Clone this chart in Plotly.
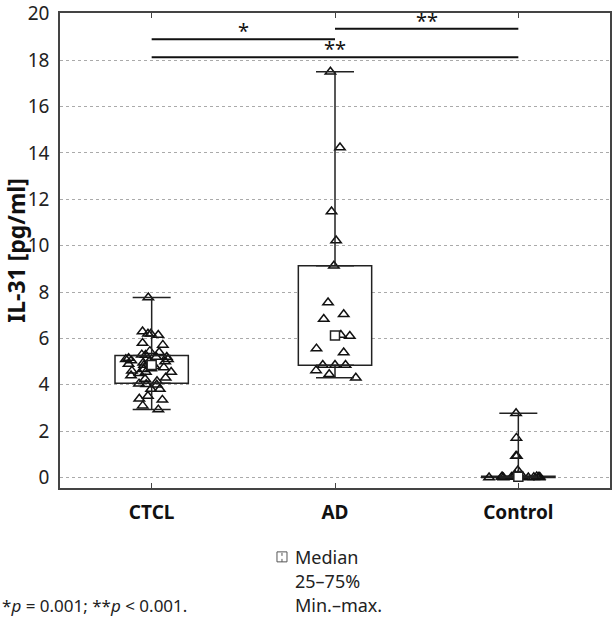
import plotly.graph_objects as go

# ---------------- data ----------------
categories = ["CTCL", "AD", "Control"]

q1 = [4.07, 4.84, 0.0]
median = [4.85, 6.12, 0.04]
q3 = [5.26, 9.13, 0.06]
whisk_min = [2.93, 4.30, 0.0]
whisk_max = [7.76, 17.50, 2.77]

ctcl_values = [7.76, 6.30, 6.20, 6.15, 6.20, 5.80, 5.72, 5.45, 5.40, 5.30, 5.28,
               5.20, 5.20, 5.15, 5.10, 5.10, 5.05, 5.00, 5.00, 4.95, 4.90, 4.90,
               4.85, 4.80, 4.75, 4.70, 4.67, 4.60, 4.55, 4.55, 4.50, 4.40, 4.30,
               4.25, 4.15, 4.05, 4.02, 4.00, 3.82, 3.82, 3.52, 3.40, 3.35, 3.10, 2.93]
ad_values = [17.50, 14.23, 11.47, 10.22, 9.13, 7.55, 7.04, 6.84, 6.15, 6.10,
             5.56, 5.39, 4.85, 4.85, 4.85, 4.62, 4.45, 4.30]
control_values = [2.77, 1.71, 0.93, 0.93, 0.30, 0.10, 0.08, 0.07, 0.06, 0.05,
                  0.05, 0.04, 0.03, 0.03, 0.02, 0.02, 0.02, 0.01, 0.0, 0.0, 0.0, 0.0]

sig_from = [0, 1, 0]
sig_to = [1, 2, 2]
sig_level = [18.90, 19.35, 18.12]
sig_label = ["*", "**", "**"]

y_ticks = [0, 2, 4, 6, 8, 10, 12, 14, 16, 18, 20]
legend_lines = ["Median", "25–75%", "Min.–max."]
footnote = "*<i>p</i> = 0.001; **<i>p</i> < 0.001."

# ---------------- figure ----------------
FONT = "Noto Sans"
fig = go.Figure()

# boxes (25-75%)
fig.add_trace(go.Bar(
    x=categories, y=[b - a for a, b in zip(q1, q3)], base=q1, width=0.4,
    marker=dict(color="white", line=dict(color="#222", width=1.5)),
    hoverinfo="skip"))

# upper whiskers
fig.add_trace(go.Scatter(
    x=categories, y=q3, mode="markers", marker=dict(opacity=0),
    error_y=dict(type="data", symmetric=False,
                 array=[b - a for a, b in zip(q3, whisk_max)],
                 arrayminus=[0] * len(categories),
                 width=19, thickness=1.5, color="#222"),
    hoverinfo="skip"))
# lower whiskers
fig.add_trace(go.Scatter(
    x=categories, y=q1, mode="markers", marker=dict(opacity=0),
    error_y=dict(type="data", symmetric=False,
                 array=[0] * len(categories),
                 arrayminus=[a - b for a, b in zip(q1, whisk_min)],
                 width=19, thickness=1.5, color="#222"),
    hoverinfo="skip"))

# medians
fig.add_trace(go.Scatter(
    x=categories, y=median, mode="markers",
    marker=dict(symbol="square", size=9, color="white",
                line=dict(color="#222", width=1.5))))

# individual points (jittered by plotly)
all_x = ([categories[0]] * len(ctcl_values) + [categories[1]] * len(ad_values)
         + [categories[2]] * len(control_values))
all_y = ctcl_values + ad_values + control_values
fig.add_trace(go.Box(
    x=all_x, y=all_y, boxpoints="all", jitter=0.85, pointpos=0, width=0.4,
    fillcolor="rgba(0,0,0,0)", line=dict(width=0, color="rgba(0,0,0,0)"),
    marker=dict(symbol="triangle-up-open", size=9, color="#111",
                line=dict(color="#111", width=1.5)),
    hoveron="points"))

# significance bars
for a, b, lvl, lab in zip(sig_from, sig_to, sig_level, sig_label):
    fig.add_trace(go.Scatter(
        x=[categories[a], categories[b]], y=[lvl, lvl], mode="lines",
        line=dict(color="#111", width=2), hoverinfo="skip"))
    fig.add_annotation(x=(a + b) / 2, y=lvl, xref="x", yref="y", text=lab,
                       showarrow=False, yanchor="bottom", yshift=-7,
                       font=dict(family=FONT, size=20, color="#111"))

# legend block (text)
leg_y = [-0.145, -0.196, -0.247]
for txt, yy in zip(legend_lines, leg_y):
    fig.add_annotation(x=0.4236, y=yy, xref="paper", yref="paper", text=txt,
                       showarrow=False, xanchor="left", yanchor="middle",
                       font=dict(family=FONT, size=18, color="#222"))
# legend icon
fig.add_shape(type="rect", xref="paper", yref="paper",
              x0=0.3945, x1=0.4127, y0=-0.1555, y1=-0.1345,
              line=dict(color="#555", width=1), fillcolor="white")
fig.add_shape(type="line", xref="paper", yref="paper",
              x0=0.4036, x1=0.4036, y0=-0.1555, y1=-0.1345,
              line=dict(color="#555", width=1, dash="dot"))

# footnote
fig.add_annotation(x=-0.109, y=-0.247, xref="paper", yref="paper", text=footnote,
                   showarrow=False, xanchor="left", yanchor="middle",
                   font=dict(family=FONT, size=17, color="#222"))

fig.update_layout(
    width=612, height=619,
    margin=dict(l=60, r=2, t=13, b=131),
    plot_bgcolor="white", paper_bgcolor="white",
    showlegend=False, barmode="overlay", boxmode="overlay",
    font=dict(family=FONT, color="#222"),
)
fig.update_xaxes(
    type="category", range=[-0.5, 2.5],
    showline=True, mirror="ticks", linecolor="#444", linewidth=1.5,
    ticks="inside", ticklen=5, tickcolor="#444", tickwidth=1.2,
    showgrid=False, ticklabelstandoff=6, automargin=False,
    tickfont=dict(family=FONT, size=19, weight="bold", color="#111"),
)
fig.update_yaxes(
    range=[-0.45, 20.03], tickvals=y_ticks,
    showline=True, mirror=True, linecolor="#444", linewidth=1.5,
    ticks="", showgrid=True, gridcolor="#aaa", griddash="dot", gridwidth=1,
    zeroline=False, ticklabelstandoff=5, ticklabeloverflow="allow",
    tickfont=dict(family=FONT, size=19, color="#222"),
    title=dict(text="<b>IL-31 [pg/ml]</b>", standoff=4,
               font=dict(family=FONT, size=23, color="#111")),
    automargin=False,
)

fig.write_html("out.html", config={"displayModeBar": False},
               post_script="document.body.style.margin='0';document.body.style.padding='0';")
